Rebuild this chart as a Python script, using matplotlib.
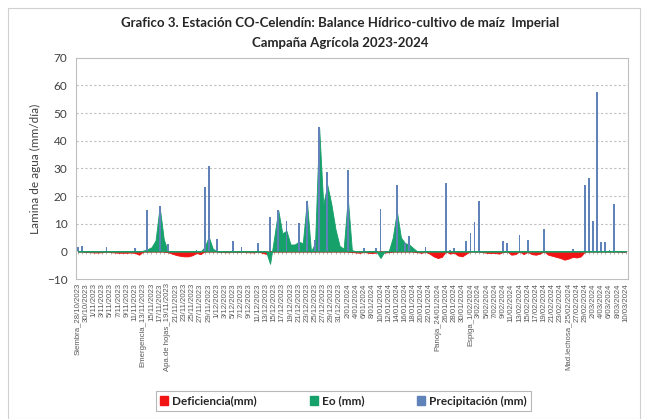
import numpy as np
import pandas as pd
from matplotlib import pyplot as plt
from matplotlib.patches import Rectangle, Patch

# dias de la campaña (28/10/2023 - 10/03/2024)
fechas = pd.date_range('2023-10-28', '2024-03-10', freq='D')

# fases del cultivo
fases = {'28/10/2023': 'Siembra', '13/11/2023': 'Emergencia', '19/11/2023': 'Apa.de hojas',
         '24/01/2024': 'Panoja', '1/02/2024': 'Espiga', '25/02/2024': 'Mad.lechosa'}

precipitacion = [
    1.6, 2.0, 0, 0, 0, 0, 0, 1.5, 0, 0,
    0, 0, 0, 0, 1.1, 0, 0, 14.8, 0, 0,
    16.4, 0, 2.5, 0, 0, 0, 0, 0, 0, 0.5,
    0, 23.2, 30.9, 0, 4.5, 0, 0, 0, 3.9, 0,
    1.6, 0, 0, 0, 2.9, 0, 0, 12.4, 0, 14.9,
    0, 10.9, 0, 0, 10.1, 0, 18.4, 0, 4.2, 44.9,
    0, 28.6, 0, 0, 0, 0, 29.4, 0, 0, 0,
    1.2, 0, 0, 1.3, 15.5, 0, 0, 0, 23.9, 0,
    3.1, 5.6, 0, 0, 0, 1.5, 0, 0, 0, 0,
    24.9, 0.6, 1.2, 0, 0, 3.9, 6.5, 10.6, 18.4, 0,
    0, 0, 0, 0, 3.6, 3.1, 0, 0, 5.8, 0,
    4.2, 0, 0, 0, 8.1, 0, 0, 0, 0, 0,
    0, 1.0, 0, 0, 24.1, 26.4, 10.9, 57.6, 3.4, 3.4,
    0.6, 17.2, 0, 0, 0]

eo = [
    0, 0, 0, 0, 0, 0, 0, 0, 0, 0,
    0, 0, 0, 0, 0, 0, 0.3, 0.8, 1.5, 4.0,
    16.2, 4.5, 0, 0, 0, 0, 0, 0, 0, 0,
    0, 1.5, 5.3, 1.0, 0, 0, 0, 0, 0, 0,
    0, 0, 0, 0, 0, 0, 0, -4.5, 5.0, 14.9,
    6.5, 7.5, 2.5, 2.5, 3.5, 3.0, 18.4, 0, 3.0, 44.9,
    17.0, 24.0, 17.0, 8.0, 2.0, 1.0, 19.4, 0.5, 0, 0,
    0, 0, 0, 0, -2.4, 0, 0, 5.0, 14.5, 5.0,
    3.0, 2.5, 1.2, 0, 0, 0, 0, 0, 0, 0,
    0, 0, 0, 0, 0, 0, 0, 0, 0, 0,
    0, 0, 0, 0, 0, 0, 0, 0, 0, 0,
    0, 0, 0, 0, 0, 0, 0, 0, 0, 0,
    0, 0, 0, 0, 0, 0, 0, 0, 0, 0,
    0, 0, 0, 0, 0]

deficiencia = [
    0, 0, -0.2, -0.3, -0.4, -0.4, -0.3, 0, -0.3, -0.4,
    -0.5, -0.5, -0.5, -0.4, -0.6, -1.2, 0, 0, 0, 0,
    0, 0, -0.3, -0.8, -1.3, -1.6, -1.8, -1.8, -1.4, -0.6,
    -1.0, 0, 0, 0, 0, -0.2, -0.3, -0.3, 0, -0.3,
    0, -0.3, -0.3, -0.4, 0, -0.5, -0.9, 0, 0, 0,
    0, 0, 0, 0, 0, 0, 0, 0, 0, 0,
    0, 0, 0, 0, 0, 0, 0, -0.2, -0.4, -0.5,
    -0.2, -0.5, -0.6, -0.4, 0, -0.4, -0.3, 0, 0, 0,
    0, 0, 0, -0.3, -0.5, -0.2, -0.8, -1.8, -2.4, -2.0,
    0, -0.8, -0.5, -1.5, -1.8, -0.8, 0, 0, 0, -0.3,
    -0.5, -0.6, -0.6, -0.8, -0.2, 0, -1.2, -1.0, 0, -1.0,
    -0.2, -1.0, -1.2, -0.8, 0, -1.2, -1.6, -2.0, -2.4, -3.0,
    -2.6, -2.0, -2.2, -1.8, 0, 0, 0, 0, 0, 0,
    0, 0, 0, -0.1, -0.1]

# etiquetas cada 2 dias
etiquetas = []
for f in fechas[::2]:
    txt = f"{f.day}/{f.month:02d}/{f.year}"
    if txt in fases:
        txt = fases[txt] + '_' + txt
    etiquetas.append(txt)

c_rojo = '#f21414'
c_verde = '#16a06a'
c_azul = '#5f82b8'
c_gris = '#595959'

fig = plt.figure(figsize=(6.48, 4.19), dpi=100)
ax = fig.add_axes([0.117, 0.334, 0.852, 0.528])

x = np.arange(len(fechas))
ax.fill_between(x, 0, deficiencia, color=c_rojo, lw=0.6, zorder=2)
ax.fill_between(x, 0, eo, color=c_verde, lw=0.6, zorder=2)
ax.bar(x, precipitacion, width=0.45, color=c_azul, zorder=3)

ax.set_xlim(-0.5, len(fechas) - 0.5)
ax.set_ylim(-10, 70)
ax.set_yticks(range(-10, 71, 10))
ax.set_xticks(x[::2])
ax.set_xticklabels(etiquetas, rotation=90, fontsize=5.6, color=c_gris,
                   family='Liberation Sans')
ax.tick_params(axis='x', length=0, pad=3)
ax.tick_params(axis='y', length=0, labelsize=8.5, labelcolor='#404040', pad=6)
for t in ax.get_yticklabels():
    t.set_family('Lato')

for v in range(10, 70, 10):
    ax.axhline(v, color='#bfbfbf', lw=0.8, ls=(0, (2, 2)), zorder=1)

for s in ax.spines.values():
    s.set_color('#bfbfbf')
    s.set_linewidth(0.8)

# eje de categorias en cero
sec = ax.secondary_xaxis(0.125)
sec.set_xticks(x)
sec.set_xticklabels([])
sec.tick_params(length=2.5, color='#a6a6a6', width=0.6)
sec.spines['bottom'].set_color('#bfbfbf')
sec.spines['bottom'].set_linewidth(0.6)

ax.set_ylabel('Lamina de agua (mm/día)', fontsize=8.5, color='#404040',
              family='Lato', labelpad=4)

fig.text(0.525, 0.945, 'Grafico 3. Estación CO-Celendín: Balance Hídrico-cultivo de maíz  Imperial',
         ha='center', va='center', fontsize=9.5, fontweight='bold', family='Lato', color='#262626')
fig.text(0.525, 0.898, 'Campaña Agrícola 2023-2024',
         ha='center', va='center', fontsize=9.5, fontweight='bold', family='Lato', color='#262626')

handles = [Patch(color=c_rojo, label='Deficiencia(mm)'),
           Patch(color=c_verde, label='Eo (mm)'),
           Patch(color=c_azul, label='Precipitación (mm)')]
leg = fig.legend(handles=handles, loc='center', bbox_to_anchor=(0.53, 0.043), ncol=3,
                 frameon=True, fancybox=False, handlelength=0.7, handleheight=0.7,
                 columnspacing=4.5, handletextpad=0.3, borderpad=0.35,
                 prop={'family': 'Lato', 'weight': 'bold', 'size': 8.5})
leg.get_frame().set_edgecolor('#a6a6a6')
leg.get_frame().set_linewidth(0.8)
for t in leg.get_texts():
    t.set_color('#262626')

fig.patches.append(Rectangle((0.012, 0.0), 0.975, 0.982, transform=fig.transFigure,
                             fill=False, edgecolor='#d0d0d0', lw=0.8))

fig.savefig('out.png', dpi=100)
